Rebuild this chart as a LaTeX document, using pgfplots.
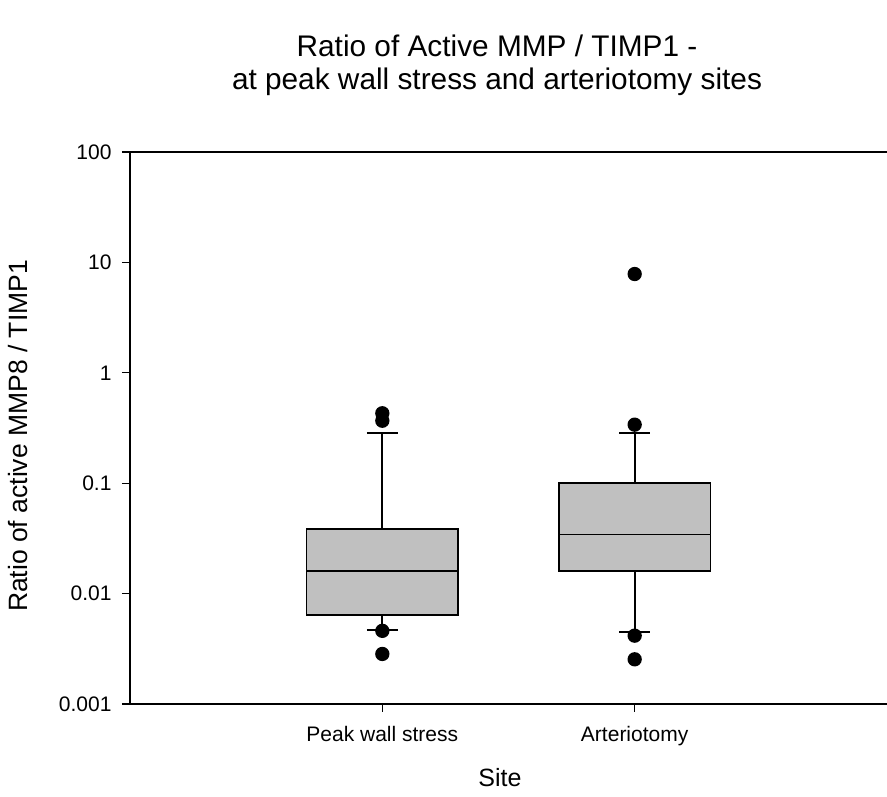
\documentclass[border=0pt]{standalone}
\usepackage{fontspec}
\setmainfont{Liberation Sans}
\usepackage{pgfplots}
\pgfplotsset{compat=1.18}
\usepgfplotslibrary{statistics}
\definecolor{boxgray}{HTML}{C0C0C0}

\begin{document}
\begin{tikzpicture}[x=1pt,y=1pt]
% fixed page frame around the axis
\useasboundingbox (-130,-92) rectangle (757,704);
\begin{axis}[
  at={(0,0)}, anchor=south west,
  scale only axis,
  width=757pt, height=552pt,
  xmin=0, xmax=3,
  ymode=log, ymin=0.001, ymax=100,
  axis x line*=box, axis y line*=left,
  axis line style={line width=1.3pt, black},
  tick align=outside, tick pos=left,
  major tick length=8pt,
  tick style={line width=1.3pt, black},
  yminorticks=false,
  xtick={1,2},
  xticklabels={Peak wall stress, Arteriotomy},
  ytick={0.001,0.01,0.1,1,10,100},
  yticklabels={0.001,0.01,0.1,1,10,100},
  tick label style={font=\fontsize{21}{25}\selectfont},
  yticklabel style={xshift=-7pt},
  xticklabel style={yshift=-11pt},
  clip=false,
  boxplot/draw direction=y,
  boxplot/box extend=0.6,
  boxplot/whisker extend=0.123,
  boxplot/every box/.style={draw=black, fill=boxgray, line width=1.7pt},
  boxplot/every median/.style={draw=black, line width=1.7pt},
  boxplot/every whisker/.style={draw=black, line width=1.7pt},
]
% Peak wall stress
\addplot+[
  boxplot prepared={
    draw position=1,
    lower whisker=0.00471,
    lower quartile=0.00644,
    median=0.0161,
    upper quartile=0.0385,
    upper whisker=0.287,
  },
  draw=black, line width=1.7pt, fill=boxgray, solid,
  mark=*, mark size=6.3pt,
  mark options={draw=black, fill=black},
] table[row sep=\\, y index=0] {
  y\\ 0.430\\ 0.368\\ 0.0046\\ 0.00284\\
};
% Arteriotomy
\addplot+[
  boxplot prepared={
    draw position=2,
    lower whisker=0.00452,
    lower quartile=0.0160,
    median=0.0344,
    upper quartile=0.100,
    upper whisker=0.283,
  },
  draw=black, line width=1.7pt, fill=boxgray, solid,
  mark=*, mark size=6.3pt,
  mark options={draw=black, fill=black},
] table[row sep=\\, y index=0] {
  y\\ 7.85\\ 0.339\\ 0.00416\\ 0.00254\\
};
\end{axis}
% title and axis labels
\node[align=center, font=\fontsize{29.8}{33}\selectfont] at (367,639)
  {Ratio of Active MMP / TIMP1 -\\at peak wall stress and arteriotomy sites};
\node[rotate=90, font=\fontsize{26.5}{30}\selectfont] at (-112,268)
  {Ratio of active MMP8 / TIMP1};
\node[font=\fontsize{25}{30}\selectfont] at (370,-74) {Site};
\end{tikzpicture}
\end{document}
